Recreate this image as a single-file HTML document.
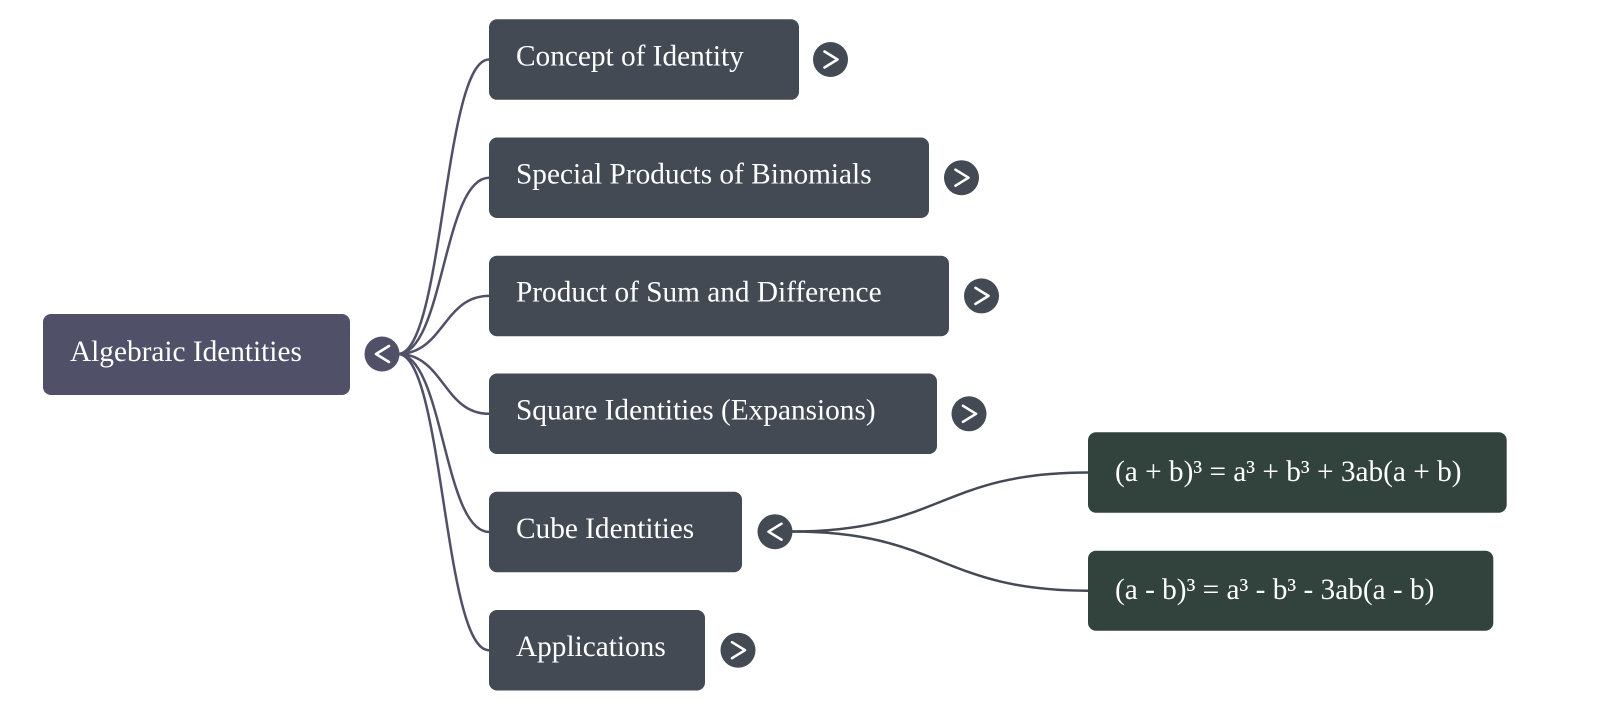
<!DOCTYPE html>
<html>
<head>
<meta charset="utf-8">
<style>
  html, body { margin: 0; padding: 0; background: #ffffff; }
  body { width: 1600px; height: 709px; overflow: hidden; }
  svg { display: block; }
  text { font-family: "Liberation Serif", "Times New Roman", serif; font-size: 29.3px; fill: #ffffff; }
</style>
</head>
<body>
<svg width="1600" height="709" viewBox="0 0 1600 709" xmlns="http://www.w3.org/2000/svg">
  <!-- root connectors -->
  <g fill="none" stroke="#505168" stroke-width="2.5" stroke-linecap="round">
    <path d="M398,354 C443.5,354 443.5,59.5 489,59.5"/>
    <path d="M398,354 C443.5,354 443.5,177.7 489,177.7"/>
    <path d="M398,354 C443.5,354 443.5,295.9 489,295.9"/>
    <path d="M398,354 C443.5,354 443.5,413.8 489,413.8"/>
    <path d="M398,354 C443.5,354 443.5,531.9 489,531.9"/>
    <path d="M398,354 C443.5,354 443.5,650.2 489,650.2"/>
  </g>
  <!-- cube connectors -->
  <g fill="none" stroke="#434a54" stroke-width="2.5" stroke-linecap="round">
    <path d="M792,531.5 C940,531.5 940,472.5 1088,472.5"/>
    <path d="M792,531.5 C940,531.5 940,590.7 1088,590.7"/>
  </g>

  <!-- root -->
  <rect x="43" y="314" width="307" height="81" rx="8" ry="8" fill="#505168"/>
  <text x="70" y="361">Algebraic Identities</text>
  <circle cx="382" cy="354" r="17.5" fill="#505168"/>
  <polyline points="389,346 376,354 389,362" fill="none" stroke="#ffffff" stroke-width="2.6" stroke-linecap="round" stroke-linejoin="round"/>

  <!-- children -->
  <g fill="#434a54">
    <rect x="489" y="19.3" width="310" height="80.5" rx="8" ry="8"/>
    <rect x="489" y="137.5" width="440" height="80.5" rx="8" ry="8"/>
    <rect x="489" y="255.7" width="460" height="80.5" rx="8" ry="8"/>
    <rect x="489" y="373.5" width="448" height="80.5" rx="8" ry="8"/>
    <rect x="489" y="491.7" width="253" height="80.5" rx="8" ry="8"/>
    <rect x="489" y="610" width="216" height="80.5" rx="8" ry="8"/>
  </g>
  <text x="516" y="65.3">Concept of Identity</text>
  <text x="516" y="183.5">Special Products of Binomials</text>
  <text x="516" y="301.7">Product of Sum and Difference</text>
  <text x="516" y="419.5">Square Identities (Expansions)</text>
  <text x="516" y="538">Cube Identities</text>
  <text x="516" y="656">Applications</text>

  <!-- child chevrons -->
  <g fill="#434a54">
    <circle cx="830.5" cy="59.5" r="17.5"/>
    <circle cx="961.5" cy="177.7" r="17.5"/>
    <circle cx="981.5" cy="295.9" r="17.5"/>
    <circle cx="969" cy="413.8" r="17.5"/>
    <circle cx="775" cy="531.7" r="17.5"/>
    <circle cx="738" cy="650.2" r="17.5"/>
  </g>
  <g fill="none" stroke="#ffffff" stroke-width="2.6" stroke-linecap="round" stroke-linejoin="round">
    <polyline points="824.5,51.5 837.5,59.5 824.5,67.5"/>
    <polyline points="955.5,169.7 968.5,177.7 955.5,185.7"/>
    <polyline points="975.5,287.9 988.5,295.9 975.5,303.9"/>
    <polyline points="963,405.8 976,413.8 963,421.8"/>
    <polyline points="781.5,523.7 768.5,531.7 781.5,539.7"/>
    <polyline points="732,642.2 745,650.2 732,658.2"/>
  </g>

  <!-- formula nodes -->
  <rect x="1088" y="432.3" width="418.7" height="80.4" rx="8" ry="8" fill="#32423d"/>
  <rect x="1088" y="550.7" width="405.3" height="80" rx="8" ry="8" fill="#32423d"/>
  <text x="1115" y="481">(a + b)³ = a³ + b³ + 3ab(a + b)</text>
  <text x="1115" y="599.2">(a - b)³ = a³ - b³ - 3ab(a - b)</text>
</svg>
</body>
</html>
